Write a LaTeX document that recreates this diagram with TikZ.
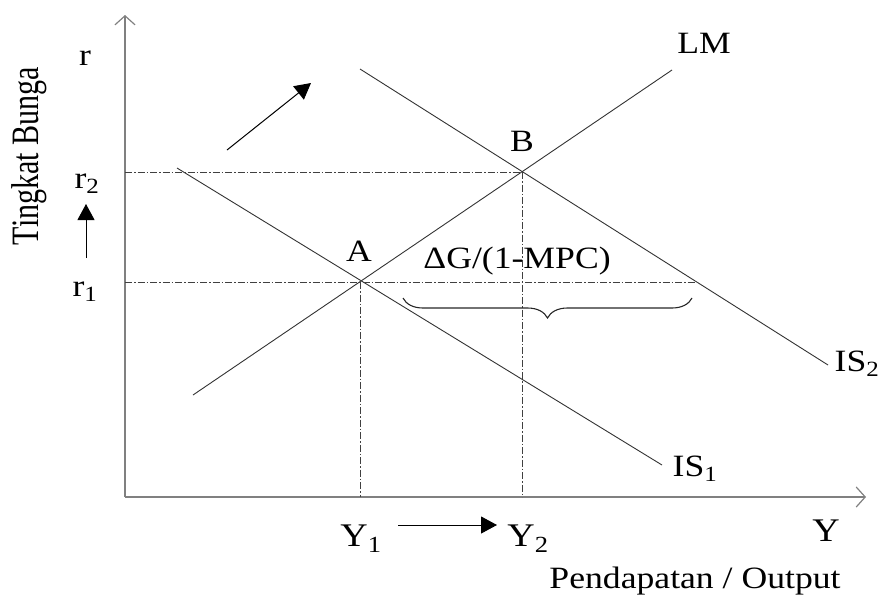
\documentclass[tikz,border=0pt]{standalone}
\usepackage{fontspec}
\setmainfont{Liberation Serif}
\usetikzlibrary{arrows.meta, positioning, decorations.pathreplacing}

\newcommand{\hs}[1]{\scalebox{1.15}[1]{#1}}

\begin{document}
\begin{tikzpicture}[
  x=1pt, y=-1pt,
  font=\fontsize{31}{35}\selectfont,
  curve/.style={draw=black!80, line width=0.9pt},
  guide/.style={draw=black!75, line width=0.7pt, dash pattern=on 7pt off 2pt on 1.5pt off 2pt},
  axis/.style={draw=black!50, line width=1.2pt, -{Straight Barb[length=9pt, width=20pt]}},
  push/.style={draw=black, line width=1pt, -{Triangle[length=16pt, width=17pt]}},
  lbl/.style={inner sep=0pt, anchor=base},
  brace/.style={draw=black!85, line width=1.1pt, decorate, decoration={brace, mirror, amplitude=20pt}}
]
\useasboundingbox (0,0) rectangle (885,595);

% axes
\coordinate (O) at (125,497);
\coordinate (ytop) at (125,15);
\coordinate (xend) at (866,497);
\draw[axis] (O) -- (ytop);
\draw[axis] (O) -- (xend);

% equilibria
\coordinate (A) at (360,282);
\coordinate (B) at (522,172);
\coordinate (C) at (697,282);
\coordinate (rA) at (125,282);
\coordinate (rB) at (125,172);
\coordinate (yA) at (360,497);
\coordinate (yB) at (522,497);

% curves
\coordinate (lmlo) at (193,395);
\coordinate (lmhi) at (672,70);
\coordinate (is1hi) at (177,168);
\coordinate (is1lo) at (662,465);
\coordinate (is2hi) at (360,69);
\coordinate (is2lo) at (828,365);
\draw[curve] (lmlo) -- (lmhi);
\draw[curve] (is1hi) -- (is1lo);
\draw[curve] (is2hi) -- (is2lo);

% guides
\draw[guide] (rB) -- (B);
\draw[guide] (rA) -- (C);
\draw[guide] (A) -- (yA);
\draw[guide] (B) -- (yB);

% multiplier
\coordinate (brl) at (403,298);
\coordinate (brr) at (692,298);
\draw[brace] (brl) -- (brr);

% shifts
\coordinate (r1arr) at (86,258);
\coordinate (r2arr) at (86,204);
\draw[push] (r1arr) -- (r2arr);
\coordinate (y1arr) at (398,525);
\coordinate (y2arr) at (497,525);
\draw[push] (y1arr) -- (y2arr);
\coordinate (sft1) at (227,150);
\coordinate (sft2) at (311,83);
\draw[push] (sft1) -- (sft2);

% labels
\node[rotate=90] (ylab) at (29,156) {\scalebox{0.97}[1.25]{Tingkat Bunga}};
\node[lbl] (rlab) at (85,65) {\hs{r}};
\node[lbl] (r2lab) at (87,188) {\hs{r\textsubscript{2}}};
\node[lbl] (r1lab) at (85,296) {\hs{r\textsubscript{1}}};
\node[lbl] (lmlab) at (704,53) {\hs{LM}};
\node[lbl] (blab) at (522,151) {\hs{B}};
\node[lbl] (alab) at (359,261) {\hs{A}};
\node[lbl] (mult) at (517,268) {\hs{ΔG/(1-MPC)}};
\node[lbl] (is2lab) at (857,371) {\hs{IS\textsubscript{2}}};
\node[lbl] (is1lab) at (695,476) {\hs{IS\textsubscript{1}}};
\node[lbl, font=\fontsize{33}{37}\selectfont] (y1lab) at (361,546) {\hs{Y\textsubscript{1}}};
\node[lbl, font=\fontsize{33}{37}\selectfont] (y2lab) at (528,546) {\hs{Y\textsubscript{2}}};
\node[lbl, font=\fontsize{33}{37}\selectfont] (ylab2) at (826,541) {\hs{Y}};
\node[lbl] (xlab) at (695,588) {\hs{Pendapatan / Output}};
\end{tikzpicture}
\end{document}
